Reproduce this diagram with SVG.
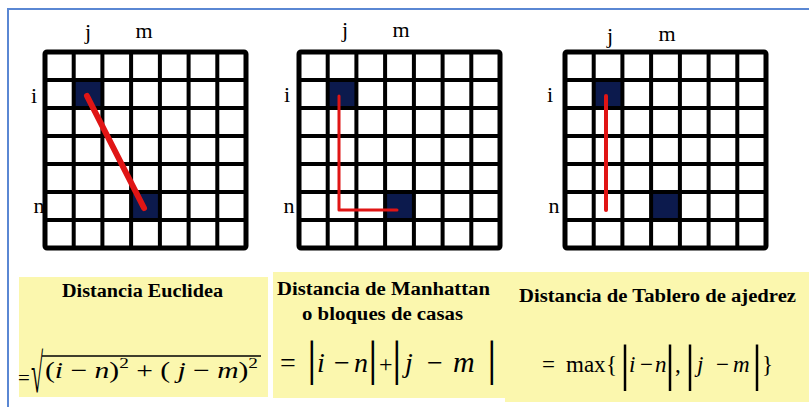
<svg xmlns="http://www.w3.org/2000/svg" width="809" height="412" viewBox="0 0 809 412">
<style>
.lbl{font-family:"Liberation Serif","Times New Roman",serif;font-size:22px;fill:#000;text-anchor:middle}
.ttl{font-family:"Liberation Serif","Times New Roman",serif;font-size:18px;font-weight:bold;fill:#000}
.f{font-family:"Liberation Serif","Times New Roman",serif;fill:#000}
.it{font-style:italic}
.box{fill:#fbf7ae}
.cell{fill:#0c1a4d}
.red{fill:none;stroke:#e01515;stroke-linecap:round;stroke-linejoin:round}
</style>
<defs>
<g id="grid" fill="none" stroke="#000">
<path stroke-width="4" d="M28.7,0V196M57.4,0V196M86.1,0V196M114.9,0V196M143.6,0V196M172.3,0V196M0,28H201M0,56H201M0,84H201M0,112H201M0,140H201M0,168H201"/>
<rect x="0" y="0" width="201" height="196" rx="2" stroke-width="5"/>
</g>
</defs>
<rect x="0" y="0" width="809" height="412" fill="#fff"/>
<path d="M7,9H809M8,9V407" fill="none" stroke="#5a87d3" stroke-width="2"/>

<g id="panel-euclidea">
<g transform="translate(45,52)">
<rect class="cell" x="28.7" y="28" width="28.7" height="28"/>
<rect class="cell" x="86.1" y="140" width="28.8" height="28"/>
<use href="#grid"/>
</g>
<text class="lbl" x="88" y="39">j</text>
<text class="lbl" x="144" y="38">m</text>
<text class="lbl" x="34" y="103">i</text>
<text class="lbl" x="39" y="213">n</text>
</g>

<g id="panel-manhattan">
<g transform="translate(299,52)">
<rect class="cell" x="28.7" y="28" width="28.7" height="28"/>
<rect class="cell" x="86.1" y="140" width="28.8" height="28"/>
<use href="#grid"/>
</g>
<text class="lbl" x="345" y="37">j</text>
<text class="lbl" x="401" y="37">m</text>
<text class="lbl" x="287" y="102">i</text>
<text class="lbl" x="289" y="213">n</text>
</g>

<g id="panel-ajedrez">
<g transform="translate(565,52)">
<rect class="cell" x="28.7" y="28" width="28.7" height="28"/>
<rect class="cell" x="86.1" y="140" width="28.8" height="28"/>
<use href="#grid"/>
</g>
<text class="lbl" x="610" y="43">j</text>
<text class="lbl" x="667" y="41">m</text>
<text class="lbl" x="550" y="102">i</text>
<text class="lbl" x="554" y="213">n</text>
</g>

<g id="connectors">
<path class="red" stroke-width="6" d="M87,96L144,208"/>
<path class="red" stroke-width="3" stroke-linecap="butt" d="M339,96V210H397"/>
<path class="red" stroke-width="4" stroke-linecap="butt" d="M606,96V210"/>
</g>

<g id="box-euclidea">
<rect class="box" x="19" y="277" width="249" height="120"/>
<text class="ttl" x="62" y="297" textLength="161" lengthAdjust="spacingAndGlyphs">Distancia Euclidea</text>
<text class="f" x="18" y="385" font-size="21">=</text>
<text class="f" font-size="22" font-weight="bold" transform="translate(31,392) scale(1,2.5)">√</text>
<line x1="42" y1="356" x2="261" y2="356" stroke="#000" stroke-width="1.5"/>
<text class="f" x="45" y="378" font-size="23" textLength="213" lengthAdjust="spacingAndGlyphs">(<tspan class="it">i</tspan> − <tspan class="it">n</tspan>)<tspan font-size="15" dy="-10">2</tspan><tspan dy="10"> + ( </tspan><tspan class="it">j</tspan> − <tspan class="it">m</tspan>)<tspan font-size="15" dy="-10">2</tspan></text>
</g>

<g id="box-manhattan">
<rect class="box" x="273" y="272" width="232" height="126"/>
<text class="ttl" x="277" y="295" textLength="213" lengthAdjust="spacingAndGlyphs">Distancia de Manhattan</text>
<text class="ttl" x="302" y="320" textLength="161" lengthAdjust="spacingAndGlyphs">o bloques de casas</text>
<text class="f" y="372" font-size="28"><tspan x="280">=</tspan><tspan x="307" y="375" font-size="48">|</tspan><tspan x="317" y="372" class="it">i</tspan><tspan x="334">−</tspan><tspan x="354" class="it">n</tspan><tspan x="368" y="375" font-size="48">|</tspan><tspan x="379" y="372" font-size="24">+</tspan><tspan x="392" y="375" font-size="48">|</tspan><tspan x="405" y="372" class="it">j</tspan><tspan x="427">−</tspan><tspan x="453" class="it" font-size="30">m</tspan><tspan x="487" y="375" font-size="48">|</tspan></text>
</g>

<g id="box-ajedrez">
<rect class="box" x="505" y="272" width="304" height="130"/>
<text class="ttl" x="519" y="302" textLength="277" lengthAdjust="spacingAndGlyphs">Distancia de Tablero de ajedrez</text>
<text class="f" y="372" font-size="23"><tspan x="542">=</tspan><tspan x="566">max</tspan><tspan x="606">{</tspan><tspan x="620" y="380" font-size="50">|</tspan><tspan x="629" y="372" class="it">i</tspan><tspan x="640">−</tspan><tspan x="655" class="it">n</tspan><tspan x="665" y="380" font-size="50">|</tspan><tspan x="675" y="372">,</tspan><tspan x="685" y="380" font-size="50">|</tspan><tspan x="697" y="372" class="it">j</tspan><tspan x="716">−</tspan><tspan x="733" class="it">m</tspan><tspan x="752" y="380" font-size="50">|</tspan><tspan x="762" y="372">}</tspan></text>
</g>
</svg>
